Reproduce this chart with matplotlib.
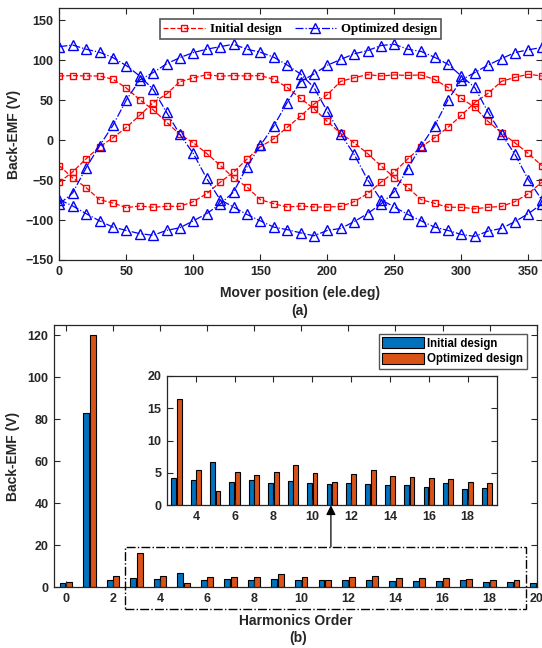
import numpy as np
import matplotlib
matplotlib.use("Agg")
import matplotlib.pyplot as plt
from matplotlib.patches import Rectangle

plt.rcParams['font.family'] = ['Liberation Sans', 'DejaVu Sans']
plt.rcParams['font.weight'] = 'bold'

# ---- (a) back-EMF waveforms, sampled every 10 ele.deg ----
angle = np.arange(0, 361, 10)

init_a = [80.3, 80.8, 80.3, 80.3, 76.2, 65.3, 50.6, 38, 22.6, 7.1, -3.3, -16.7, -31.4,
          -47.3, -58.6, -74.5, -79.5, -83.7, -82.4, -83.7, -83.7, -83, -77, -67, -52.7,
          -40, -23.6, -8.4, 2.9, 15.9, 31, 47, 58.6, 73.6, 78.5, 82.5, 80.3]
init_b = [-52.7, -39.7, -23.4, -8.4, 2.9, 15.9, 31, 46.9, 57.7, 73.2, 77.8, 82, 80,
          80.8, 80.3, 80.8, 76.2, 66, 52.3, 39.3, 23.4, 8.4, -3.3, -16.7, -32,
          -47, -59, -74.5, -79, -84, -84, -86, -84, -83, -77, -67, -52.7]
init_c = [-32, -47.3, -59.4, -74.5, -78.7, -84.5, -82.4, -84, -82.8, -82.8, -77, -67, -52.7,
          -40.2, -23.8, -8.4, 1.7, 15.9, 30, 45, 56.9, 73.6, 78, 82, 80.3,
          81.6, 81, 81.6, 76, 66, 52.3, 41, 23.4, 9.2, -3.3, -16.7, -31.8]

opt_a = [117, 119, 113.8, 110, 103.3, 93.3, 80.3, 63.6, 35, 7.1, -16.7, -48, -74.5,
         -83.7, -93, -101, -108.8, -112, -116, -119.7, -113, -110.5, -102, -92, -80,
         -64.4, -35.6, -7.5, 17.6, 50.2, 75.3, 84.5, 94, 102, 109.6, 113, 116]
opt_b = [-80, -66, -34.7, -7.1, 18.4, 50.2, 75.3, 84.5, 95.4, 103.3, 109.6, 113.8, 117,
         120, 113.8, 110, 103.8, 94.1, 82.8, 66, 36, 7.5, -17.6, -49.4, -74.5,
         -83.7, -92.9, -101, -108.8, -113, -118, -120.5, -113.8, -110.5, -102, -92, -80]
opt_c = [-74.5, -82.4, -92, -101, -108.8, -113, -117, -119, -113, -109.6, -101, -92, -80,
         -65, -33.5, -6.7, 17.6, 46.9, 73.2, 82.8, 93.7, 101, 108, 112, 118.4,
         120, 113.8, 111, 103.8, 95, 80.3, 66, 35, 7.5, -17.6, -49.4, -74.5]

# ---- (b) harmonic spectrum ----
order = np.arange(0, 21)
harm_init = [1.9, 83, 3.7, 4.2, 3.9, 6.75, 3.6, 3.9, 3.5, 3.8, 3.5, 3.3, 3.4, 3.3,
             3.2, 3.1, 2.9, 3.4, 2.5, 2.7, 2.2]
harm_opt = [2.5, 120, 5.3, 16.5, 5.4, 2.2, 5.1, 4.7, 5.1, 6.2, 5.0, 3.55, 4.85, 5.45,
            4.6, 4.4, 4.2, 4.1, 3.65, 3.5, 2.4]

W, H = 542, 648
fig = plt.figure(figsize=(W / 100, H / 100), dpi=100)

def fig_rect(l, t, r, b):
    return [l / W, 1 - b / H, (r - l) / W, (b - t) / H]

def style_axes(ax, size=9.0):
    ax.tick_params(direction='in', length=4, width=0.8, top=True, right=True,
                   labelsize=size, colors='#262626', pad=4)
    for lab in ax.get_xticklabels() + ax.get_yticklabels():
        lab.set_fontweight('bold')
    for s in ax.spines.values():
        s.set_color('#262626')
        s.set_linewidth(0.9)

# top panel
ax1 = fig.add_axes(fig_rect(59.3, 8.3, 541.7, 260))
red, blue = '#ff0000', '#0000ff'
for k, ys in enumerate([init_a, init_b, init_c]):
    ax1.plot(angle, ys, color=red, ls='--', dashes=(4, 1.5), lw=0.9, marker='s', ms=5,
             mfc='none', mew=1.0, label='Initial design' if k == 0 else None)
for k, ys in enumerate([opt_a, opt_b, opt_c]):
    ax1.plot(angle, ys, color=blue, ls='-.', lw=0.9, marker='^', ms=6.5,
             mfc='none', mew=1.0, label='Optimized design' if k == 0 else None)
ax1.set_xlim(0, 360)
ax1.set_ylim(-150, 165)
ax1.set_xticks(np.arange(0, 351, 50))
ax1.set_yticks(np.arange(-150, 151, 50))
style_axes(ax1)
ax1.set_ylabel('Back-EMF (V)', fontsize=10, fontweight='bold', color='#262626')
ax1.yaxis.set_label_coords(-0.08, 0.5)
ax1.set_xlabel('Mover position (ele.deg)', fontsize=10, fontweight='bold', color='#262626')
ax1.xaxis.set_label_coords(0.5, -0.105)
leg1 = ax1.legend(loc='upper center', bbox_to_anchor=(0.5, 0.956), ncol=2, borderaxespad=0,
                  prop={'family': 'Liberation Serif', 'weight': 'bold', 'size': 9.3},
                  fancybox=False, edgecolor='#555555', framealpha=1, handlelength=3.2,
                  columnspacing=1.0, handletextpad=0.4, borderpad=0.3)
leg1.get_frame().set_linewidth(1.2)
fig.text(300 / W, 1 - 311 / H, '(a)', ha='center', va='center', fontsize=10,
         fontweight='bold', color='#262626')

# bottom panel
bw = 0.25
off = 0.14
c_init, c_opt = '#0072bd', '#d95319'
ax2 = fig.add_axes(fig_rect(54, 324.7, 536.7, 587.3))
ax2.bar(order - off, harm_init, bw, color=c_init, edgecolor='k', lw=0.8, label='Initial design')
ax2.bar(order + off, harm_opt, bw, color=c_opt, edgecolor='k', lw=0.8, label='Optimized design')
ax2.set_xlim(-0.5, 20)
ax2.set_ylim(0, 125)
ax2.set_xticks(np.arange(0, 21, 2))
ax2.set_yticks(np.arange(0, 121, 20))
style_axes(ax2)
ax2.set_ylabel('Back-EMF (V)', fontsize=10, fontweight='bold', color='#262626')
ax2.yaxis.set_label_coords(-0.07, 0.5)
ax2.set_xlabel('Harmonics Order', fontsize=10, fontweight='bold', color='#262626')
ax2.xaxis.set_label_coords(0.5, -0.1)
leg2 = ax2.legend(loc='upper right', bbox_to_anchor=(0.979, 0.965), borderaxespad=0,
                  prop={'weight': 'bold', 'size': 8.3}, fancybox=False, edgecolor='#555555',
                  framealpha=1, handlelength=3.6, handleheight=1.1, handletextpad=0.3,
                  borderpad=0.3, labelspacing=0.25)
leg2.get_frame().set_linewidth(1.0)
fig.text(298 / W, 1 - 638 / H, '(b)', ha='center', va='center', fontsize=10,
         fontweight='bold', color='#262626')

# zoom box over harmonics 3..19
ax2.add_patch(Rectangle((2.5, -10.2), 17.03, 29.5, fill=False, ls='-.', lw=1.0,
                        ec='k', clip_on=False, zorder=5))

# inset
ax3 = fig.add_axes(fig_rect(166.7, 376, 496.7, 505.3))
ax3.bar(order - off, harm_init, bw, color=c_init, edgecolor='k', lw=0.8)
ax3.bar(order + off, harm_opt, bw, color=c_opt, edgecolor='k', lw=0.8)
ax3.set_xlim(2.5, 19.5)
ax3.set_ylim(0, 20)
ax3.set_xticks(np.arange(4, 19, 2))
ax3.set_yticks(np.arange(0, 21, 5))
style_axes(ax3)

# arrow from the box to the inset
ax2.annotate('', xy=(11.26, 0), xycoords=('data', ax3.transAxes),
             xytext=(11.26, 19.3), textcoords='data',
             arrowprops=dict(arrowstyle='-|>', color='k', lw=0.9, mutation_scale=14,
                             shrinkA=0, shrinkB=0))

fig.savefig('out.png', dpi=100)
